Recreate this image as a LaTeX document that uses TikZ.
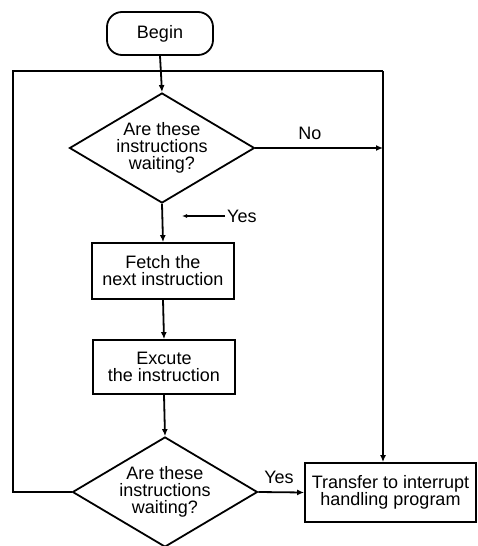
\documentclass[tikz,border=0pt]{standalone}
\usepackage{fontspec}
\setmainfont{Liberation Sans}
\usetikzlibrary{shapes.geometric,arrows.meta}
\begin{document}
\begin{tikzpicture}[x=1pt,y=-1pt,
  every node/.style={font=\fontsize{18}{17}\selectfont},
  ln/.style={line width=1.8pt},
  arr/.style={ln,-{Latex[length=7pt,width=6pt]}},
  procbox/.style={draw,ln,rectangle,align=center,inner sep=0pt},
  decision/.style={draw,ln,diamond,aspect=1.68,align=center,inner sep=0pt,minimum width=185pt,minimum height=110pt},
  lbl/.style={inner sep=0pt}]
\useasboundingbox (0,0) rectangle (478,546);
\node[procbox,rounded corners=15pt,minimum width=106pt,minimum height=43pt] (begin) at (160,33.5) {Begin};
\node[decision] (d1) at (162,148) {Are these\\instructions\\waiting?};
\node[procbox,minimum width=142pt,minimum height=56pt] (fetch) at (163,271) {Fetch the\\next instruction};
\node[procbox,minimum width=142pt,minimum height=54pt] (exec) at (164,367) {Excute\\the instruction};
\node[decision] (d2) at (165,492) {Are these\\instructions\\waiting?};
\node[procbox,minimum width=171pt,minimum height=59pt] (transfer) at (390.5,492.5) {Transfer to interrupt\\handling program};
\coordinate (tl) at (13,71);
\coordinate (tr) at (383,71);
\coordinate (bl) at (13,492);
\coordinate (nojoin) at (383,148);
\coordinate (yesA) at (225,216);
\coordinate (yesB) at (182,216);
\draw[arr] (begin.south) -- (d1.north);
\draw[ln] (d2.west) -- (bl) -- (tl) -- (tr);
\draw[arr] (tr) -- (transfer.north -| tr);
\draw[arr] (d1.east) -- (nojoin);
\draw[arr] (d1.south) -- (fetch.north);
\draw[arr] (fetch.south) -- (exec.north);
\draw[arr] (exec.south) -- (d2.north);
\draw[arr] (d2.east) -- (transfer.west);
\draw[line width=1.2pt,-{Latex[length=5pt,width=4pt]}] (yesA) -- (yesB);
\node[lbl,anchor=west] (yes1) at (227,216) {Yes};
\node[lbl] (no) at (310,133) {No};
\node[lbl] (yes2) at (279,477) {Yes};
\end{tikzpicture}
\end{document}
